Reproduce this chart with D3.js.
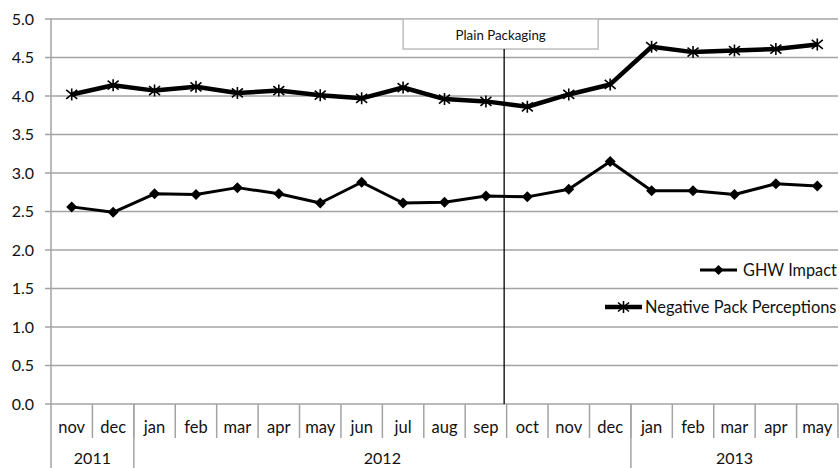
<!DOCTYPE html>
<html>
<head>
<meta charset="utf-8">
<script src="https://cdn.jsdelivr.net/npm/d3@7/dist/d3.min.js"></script>
<style>
  html, body { margin: 0; padding: 0; background: #fff; }
  svg { display: block; font-family: Lato, "Open Sans", sans-serif; }
</style>
</head>
<body>
<svg id="chart" width="839" height="468"></svg>
<script>
// Monthly survey means, Nov 2011 – May 2013
const months = ["nov","dec","jan","feb","mar","apr","may","jun","jul","aug","sep","oct","nov","dec","jan","feb","mar","apr","may"];
const years = [
  { label: "2011", start: 0, end: 2 },
  { label: "2012", start: 2, end: 14 },
  { label: "2013", start: 14, end: 19 }
];
const ghwImpact = [2.56, 2.49, 2.73, 2.72, 2.81, 2.73, 2.61, 2.88, 2.61, 2.62, 2.70, 2.69, 2.79, 3.15, 2.77, 2.77, 2.72, 2.86, 2.83];
const negativePack = [4.02, 4.14, 4.07, 4.12, 4.04, 4.07, 4.01, 3.97, 4.11, 3.96, 3.93, 3.86, 4.02, 4.15, 4.64, 4.57, 4.59, 4.61, 4.67];
const yTicks = [0, 0.5, 1, 1.5, 2, 2.5, 3, 3.5, 4, 4.5, 5];
// Plain packaging introduced late in the "sep" slot (index 10)
const plainPackaging = { label: "Plain Packaging", index: 10, offset: 0.44 };

const svg = d3.select("#chart");
const plotLeft = 51, plotRight = 838, plotTop = 19, plotBottom = 404;
const gridColor = "#a3a3a3";
const textColor = "#111";

const x = d3.scaleBand().domain(d3.range(months.length)).range([plotLeft, plotRight]).padding(0);
const y = d3.scaleLinear().domain([0, 5]).range([plotBottom, plotTop]);
const cx = i => x(i) + x.bandwidth() / 2;

// Horizontal gridlines with small left ticks
svg.append("g").selectAll("line").data(yTicks).join("line")
  .attr("x1", plotLeft - 6).attr("x2", plotRight)
  .attr("y1", d => y(d)).attr("y2", d => y(d))
  .attr("stroke", gridColor).attr("stroke-width", 1.5);

svg.append("g").selectAll("text").data(yTicks).join("text")
  .attr("x", 34).attr("y", d => y(d) + 5.8)
  .attr("text-anchor", "end").attr("font-size", 16).attr("fill", textColor)
  .text(d => d.toFixed(1));

// Left axis line, running down through the category rows
svg.append("line").attr("x1", plotLeft).attr("x2", plotLeft).attr("y1", plotTop).attr("y2", 468)
  .attr("stroke", gridColor).attr("stroke-width", 1.5);

// Month separators
svg.append("g").selectAll("line").data(d3.range(1, months.length + 1)).join("line")
  .attr("x1", i => i < months.length ? x(i) : plotRight).attr("x2", i => i < months.length ? x(i) : plotRight)
  .attr("y1", plotBottom).attr("y2", 438)
  .attr("stroke", gridColor).attr("stroke-width", 1.5);

// Year separators
svg.append("g").selectAll("line").data(years.slice(1)).join("line")
  .attr("x1", d => x(d.start)).attr("x2", d => x(d.start))
  .attr("y1", plotBottom).attr("y2", 468)
  .attr("stroke", gridColor).attr("stroke-width", 1.5);

svg.append("g").selectAll("text").data(months).join("text")
  .attr("x", (d, i) => cx(i)).attr("y", 433)
  .attr("text-anchor", "middle").attr("font-size", 16.5).attr("fill", textColor)
  .text(d => d);

svg.append("g").selectAll("text").data(years).join("text")
  .attr("x", d => (x(d.start) + (d.end < months.length ? x(d.end) : plotRight)) / 2).attr("y", 464)
  .attr("text-anchor", "middle").attr("font-size", 16).attr("fill", textColor)
  .text(d => d.label);

// Plain packaging annotation
const ppX = cx(plainPackaging.index) + x.bandwidth() * plainPackaging.offset;
svg.append("rect").attr("x", ppX - 101).attr("y", plotTop).attr("width", 195).attr("height", 30)
  .attr("fill", "#fff").attr("stroke", "#bdbdbd").attr("stroke-width", 1.5);
svg.append("text").attr("x", ppX - 3.5).attr("y", 39.5).attr("text-anchor", "middle")
  .attr("font-size", 13.3).attr("fill", textColor).text(plainPackaging.label);
svg.append("line").attr("x1", ppX).attr("x2", ppX).attr("y1", plotTop + 30).attr("y2", plotBottom)
  .attr("stroke", "#000").attr("stroke-width", 1.3);

// Marker shapes
const diamondPath = r => `M0,${-r}L${r},0L0,${r}L${-r},0Z`;
function drawDiamond(g, px, py, r) {
  g.append("path").attr("d", diamondPath(r)).attr("transform", `translate(${px},${py})`).attr("fill", "#000");
}
function drawStar(g, px, py) {
  g.append("path")
    .attr("d", "M-5.5,-4.5L5.5,4.5M-5.5,4.5L5.5,-4.5M0,-6L0,6")
    .attr("transform", `translate(${px},${py})`)
    .attr("stroke", "#000").attr("stroke-width", 1.6).attr("fill", "none");
}

const line = d3.line().x((d, i) => cx(i)).y(d => y(d));

// Negative Pack Perceptions
svg.append("path").datum(negativePack).attr("d", line)
  .attr("fill", "none").attr("stroke", "#000").attr("stroke-width", 4.5).attr("stroke-linejoin", "round");
const gStar = svg.append("g");
negativePack.forEach((v, i) => drawStar(gStar, cx(i), y(v)));

// GHW Impact
svg.append("path").datum(ghwImpact).attr("d", line)
  .attr("fill", "none").attr("stroke", "#000").attr("stroke-width", 3).attr("stroke-linejoin", "round");
const gDia = svg.append("g");
ghwImpact.forEach((v, i) => drawDiamond(gDia, cx(i), y(v), 5.5));

// Legend
const legend = svg.append("g");
legend.append("line").attr("x1", 700).attr("x2", 737).attr("y1", 270).attr("y2", 270)
  .attr("stroke", "#000").attr("stroke-width", 3);
drawDiamond(legend, 718.5, 270, 5);
legend.append("text").attr("x", 743).attr("y", 275.8).attr("font-size", 16.3).attr("fill", textColor).text("GHW Impact");

legend.append("line").attr("x1", 605).attr("x2", 642).attr("y1", 307).attr("y2", 307)
  .attr("stroke", "#000").attr("stroke-width", 4.5);
drawStar(legend, 623.5, 307);
legend.append("text").attr("x", 645).attr("y", 312.8).attr("font-size", 16.4).attr("fill", textColor).text("Negative Pack Perceptions");
</script>
</body>
</html>
